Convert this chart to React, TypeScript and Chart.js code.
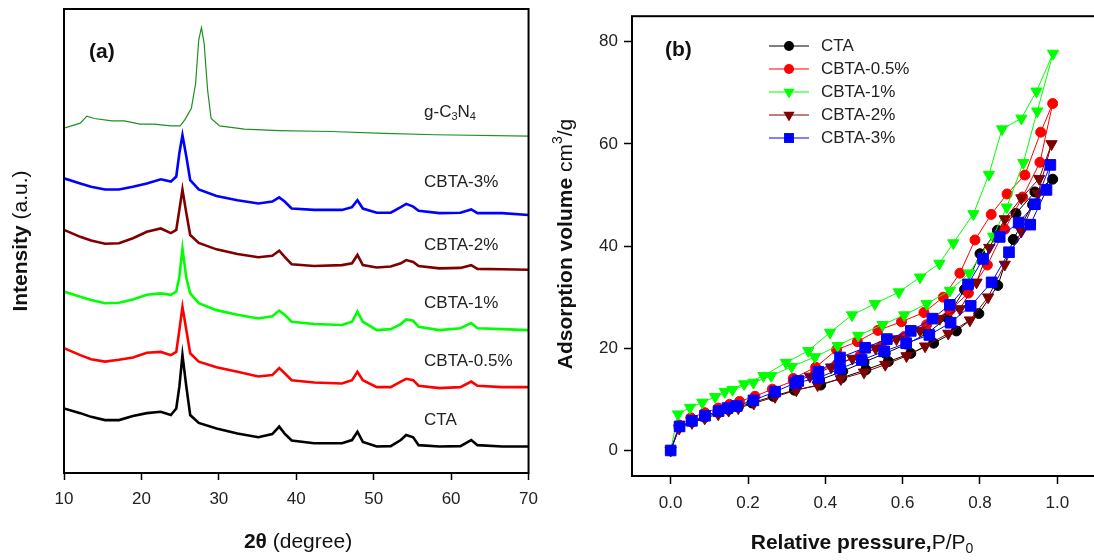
import React, { useEffect, useRef } from 'react';
import { Chart, registerables } from 'chart.js';

Chart.register(...registerables);

const FAM = '"Liberation Sans", Arial, sans-serif';

// ---------- Panel (a): XRD patterns (arbitrary, stacked intensity units) ----------
const xrdTicks = [10, 20, 30, 40, 50, 60, 70];
const gcnAngles = [10, 12.1, 12.95, 13.9, 16.2, 17.8, 19.8, 21.6, 23.8, 25.0, 25.6, 26.45, 27.0, 27.4, 27.75, 28.1, 28.55, 29.0, 30.1, 33.3, 37.8, 44.5, 51.3, 58.0, 70];
const gcnIntensity = [74.3, 75.4, 76.9, 76.4, 75.9, 75.9, 75.2, 75.2, 74.8, 74.8, 76.1, 78.6, 84.0, 93.3, 96.0, 92.6, 82.5, 76.4, 74.8, 74.1, 73.8, 73.6, 73.2, 72.9, 72.6];
const cbtaAngles = [10, 12.1, 13.5, 15.3, 17.1, 18.9, 20.7, 22.5, 23.8, 24.5, 24.9, 25.3, 25.8, 26.3, 27.4, 29.7, 32.4, 35.1, 36.9, 37.8, 38.5, 39.4, 42.3, 45.9, 47.2, 47.9, 48.6, 50.4, 52.2, 53.5, 54.2, 55.1, 55.8, 58.5, 61.2, 62.6, 63.4, 66.6, 70];
const xrdCTA = [13.9, 12.9, 12.1, 11.4, 11.4, 12.3, 12.9, 13.2, 12.5, 13.9, 18.6, 25.4, 18.6, 12.5, 10.8, 9.6, 8.5, 7.7, 8.4, 10.0, 8.5, 7.0, 6.4, 6.4, 7.1, 8.9, 6.7, 5.7, 5.8, 7.1, 8.2, 7.7, 6.0, 5.7, 5.8, 7.1, 6.0, 5.7, 5.7];
const xrdCBTA05 = [26.9, 25.4, 24.5, 24.0, 24.4, 24.9, 25.9, 26.1, 25.4, 26.1, 30.8, 35.8, 30.8, 25.8, 24.0, 22.8, 21.8, 20.8, 21.1, 22.6, 21.5, 20.0, 19.5, 19.3, 20.0, 21.8, 20.0, 18.5, 18.5, 19.7, 20.3, 20.0, 18.8, 18.3, 18.5, 19.7, 18.8, 18.5, 18.5];
const xrdCBTA1 = [39.1, 38.0, 37.3, 36.6, 36.7, 37.4, 38.4, 38.7, 38.4, 39.1, 42.3, 48.4, 42.0, 38.7, 36.6, 35.1, 34.1, 33.3, 33.8, 35.0, 34.1, 32.6, 32.1, 31.9, 32.6, 34.8, 32.6, 30.8, 31.0, 32.1, 33.1, 32.8, 31.5, 30.8, 31.2, 32.3, 31.2, 31.0, 30.8];
const xrdCBTA2 = [52.4, 50.9, 50.1, 49.4, 49.5, 50.6, 52.0, 52.7, 51.7, 52.4, 56.7, 61.1, 56.0, 51.3, 49.6, 48.2, 47.2, 46.5, 46.8, 47.9, 46.6, 45.0, 44.6, 44.8, 45.2, 47.0, 44.8, 44.3, 44.5, 45.2, 45.9, 45.5, 44.6, 44.1, 44.2, 44.8, 44.0, 43.9, 43.8];
const xrdCBTA3 = [63.5, 62.4, 61.7, 61.1, 61.1, 61.7, 62.4, 63.3, 62.8, 63.9, 68.9, 72.8, 68.2, 63.1, 61.1, 59.7, 58.8, 58.1, 58.5, 59.4, 58.5, 57.0, 56.7, 56.7, 57.3, 58.8, 57.0, 56.1, 56.1, 57.3, 58.0, 57.4, 56.5, 56.0, 56.1, 56.8, 56.0, 56.0, 55.6];

// ---------- Panel (b): N2 isotherms (adsorption then desorption branch) ----------
const pTicks = [0, 0.2, 0.4, 0.6, 0.8, 1.0];
const vTicks = [0, 20, 40, 60, 80];
const ctaP = [0, 0.022, 0.055, 0.088, 0.123, 0.15, 0.175, 0.21, 0.265, 0.32, 0.388, 0.442, 0.505, 0.563, 0.621, 0.68, 0.739, 0.797, 0.846, 0.886, 0.936, 0.988, 0.942, 0.893, 0.845, 0.80, 0.76, 0.715, 0.665, 0.61, 0.555, 0.5, 0.445, 0.385];
const ctaV = [0, 4.6, 5.6, 6.5, 7.4, 8.0, 8.5, 9.3, 10.6, 11.8, 12.8, 14.2, 15.8, 17.4, 19.0, 21.0, 23.4, 26.8, 32.3, 41.3, 48.1, 53.1, 50.6, 46.4, 43.1, 38.5, 31.5, 26.0, 23.0, 20.8, 19.0, 17.3, 15.5, 13.8];
const cbta05P = [0, 0.022, 0.052, 0.088, 0.123, 0.152, 0.178, 0.218, 0.263, 0.317, 0.375, 0.432, 0.49, 0.545, 0.604, 0.662, 0.722, 0.77, 0.819, 0.864, 0.91, 0.955, 0.988, 0.957, 0.916, 0.87, 0.829, 0.787, 0.748, 0.705, 0.655, 0.597, 0.536, 0.483, 0.429, 0.375, 0.317];
const cbta05V = [0, 5.0, 6.4, 7.4, 8.3, 9.0, 9.6, 10.6, 12.0, 13.6, 15.4, 17.0, 18.6, 20.4, 22.3, 24.6, 27.4, 30.8, 36.3, 43.3, 49.6, 56.4, 67.9, 62.3, 53.9, 50.2, 46.2, 41.2, 34.7, 30.0, 27.0, 25.2, 23.5, 21.3, 19.7, 16.3, 14.1];
const cbta1P = [0, 0.019, 0.05, 0.082, 0.115, 0.16, 0.214, 0.26, 0.313, 0.373, 0.432, 0.485, 0.548, 0.604, 0.662, 0.722, 0.772, 0.834, 0.869, 0.912, 0.948, 0.989, 0.946, 0.907, 0.857, 0.823, 0.783, 0.731, 0.695, 0.645, 0.59, 0.528, 0.469, 0.412, 0.356, 0.298, 0.24, 0.19, 0.14];
const cbta1V = [0, 7.1, 8.4, 9.4, 10.5, 11.9, 13.3, 14.6, 16.4, 18.3, 20.5, 22.5, 24.6, 26.5, 28.7, 31.3, 34.7, 41.9, 47.6, 56.3, 66.4, 77.7, 70.3, 65.0, 62.9, 54.0, 46.3, 40.6, 36.6, 33.9, 31.0, 28.7, 26.5, 23.1, 19.5, 17.2, 14.6, 13.0, 11.5];
const cbta2P = [0, 0.022, 0.055, 0.088, 0.123, 0.15, 0.175, 0.215, 0.27, 0.325, 0.38, 0.44, 0.5, 0.555, 0.61, 0.658, 0.718, 0.774, 0.821, 0.864, 0.907, 0.95, 0.985, 0.953, 0.907, 0.864, 0.824, 0.791, 0.748, 0.696, 0.645, 0.584, 0.53, 0.47, 0.415, 0.36];
const cbta2V = [0, 4.3, 5.4, 6.3, 7.1, 7.8, 8.3, 9.2, 10.5, 11.8, 12.8, 14.0, 15.3, 16.8, 18.5, 20.4, 22.9, 25.5, 30.0, 36.4, 42.9, 50.3, 60.0, 53.2, 49.4, 45.3, 39.7, 32.9, 27.7, 25.8, 23.5, 21.8, 20.0, 18.0, 16.3, 14.5];
const cbta3P = [0, 0.023, 0.055, 0.089, 0.124, 0.147, 0.171, 0.214, 0.27, 0.322, 0.382, 0.438, 0.494, 0.552, 0.609, 0.669, 0.724, 0.776, 0.83, 0.875, 0.93, 0.972, 0.982, 0.942, 0.9, 0.851, 0.808, 0.769, 0.722, 0.677, 0.621, 0.559, 0.503, 0.438, 0.382, 0.33];
const cbta3V = [0, 4.7, 5.8, 6.8, 7.7, 8.3, 8.7, 9.8, 11.5, 13.2, 14.2, 16.0, 17.7, 19.4, 21.0, 22.6, 25.0, 28.3, 32.9, 38.8, 44.2, 51.0, 55.9, 48.2, 44.6, 41.8, 37.5, 32.5, 28.5, 25.8, 23.4, 21.8, 20.1, 18.2, 15.4, 13.6];

const seriesNames = ['CTA', 'CBTA-0.5%', 'CBTA-1%', 'CBTA-2%', 'CBTA-3%'];

type Run = { t: string; f: string; dy?: number };

const fnt = (size: number, bold = false) => `${bold ? 'bold ' : ''}${size}px ${FAM}`;

function drawRuns(ctx: CanvasRenderingContext2D, runs: Run[], x: number, y: number, align: 'left' | 'center', rot: number, color: string) {
  ctx.save();
  ctx.translate(x, y);
  if (rot) ctx.rotate(rot);
  ctx.fillStyle = color;
  ctx.textBaseline = 'middle';
  ctx.textAlign = 'left';
  let total = 0;
  const widths = runs.map((r) => {
    ctx.font = r.f;
    const w = ctx.measureText(r.t).width;
    total += w;
    return w;
  });
  let cx = align === 'center' ? -total / 2 : 0;
  runs.forEach((r, i) => {
    ctx.font = r.f;
    ctx.fillText(r.t, cx, r.dy || 0);
    cx += widths[i];
  });
  ctx.restore();
}

function drawMarker(ctx: CanvasRenderingContext2D, style: string, x: number, y: number, r: number, color: string) {
  ctx.save();
  ctx.fillStyle = color;
  ctx.beginPath();
  if (style === 'circle') {
    ctx.arc(x, y, r, 0, Math.PI * 2);
  } else if (style === 'triangleDown') {
    ctx.moveTo(x, y + r);
    ctx.lineTo(x - r * 0.866, y - r / 2);
    ctx.lineTo(x + r * 0.866, y - r / 2);
    ctx.closePath();
  } else {
    const s = r * Math.SQRT1_2;
    ctx.rect(x - s, y - s, 2 * s, 2 * s);
  }
  ctx.fill();
  ctx.restore();
}

const frame = (chart: any) => {
  const { ctx, chartArea: a } = chart;
  ctx.save();
  ctx.strokeStyle = '#000';
  ctx.lineWidth = 2;
  ctx.strokeRect(a.left, a.top, a.right - a.left, a.bottom - a.top);
  ctx.restore();
};

const tickFont = { family: FAM, size: 17 };
const TICK_COLOR = '#222';

export default function App() {
  const leftRef = useRef<HTMLCanvasElement>(null);
  const rightRef = useRef<HTMLCanvasElement>(null);

  useEffect(() => {
    const xy = (xs: number[], ys: number[]) => xs.map((x, i) => ({ x, y: ys[i] }));

    const xrdColors = ['#000000', '#ff0000', '#00ff00', '#800000', '#0000ff'];
    const xrdSeries = [xrdCTA, xrdCBTA05, xrdCBTA1, xrdCBTA2, xrdCBTA3];
    const xrdLabelPos = [11.4, 24.0, 36.6, 49.1, 62.7];

    const leftDecor = {
      id: 'leftDecor',
      afterDraw(chart: any) {
        frame(chart);
        const ctx = chart.ctx;
        const sx = chart.scales.x;
        const sy = chart.scales.y;
        const lx = sx.getPixelForValue(56.5);
        drawRuns(ctx, [
          { t: 'g-C', f: fnt(17) },
          { t: '3', f: fnt(11), dy: 5 },
          { t: 'N', f: fnt(17) },
          { t: '4', f: fnt(11), dy: 5 },
        ], lx, sy.getPixelForValue(77.8), 'left', 0, TICK_COLOR);
        seriesNames.forEach((n, i) => {
          drawRuns(ctx, [{ t: n, f: fnt(17) }], lx, sy.getPixelForValue(xrdLabelPos[i]), 'left', 0, TICK_COLOR);
        });
        drawRuns(ctx, [{ t: '(a)', f: fnt(21, true) }], 89, 52, 'left', 0, '#111');
        drawRuns(ctx, [{ t: '2θ', f: fnt(21, true) }, { t: ' (degree)', f: fnt(21) }], 298, 542, 'center', 0, '#111');
        drawRuns(ctx, [{ t: 'Intensity', f: fnt(21, true) }, { t: ' (a.u.)', f: fnt(21) }], 21, 241, 'center', -Math.PI / 2, '#111');
      },
    };

    const left = new Chart(leftRef.current as HTMLCanvasElement, {
      type: 'line',
      data: {
        datasets: [
          {
            label: 'g-C3N4',
            data: xy(gcnAngles, gcnIntensity),
            borderColor: '#1f8f1f',
            borderWidth: 1.2,
            pointRadius: 0,
          },
          ...xrdSeries.map((s, i) => ({
            label: seriesNames[i],
            data: xy(cbtaAngles, s),
            borderColor: xrdColors[i],
            borderWidth: 2.6,
            pointRadius: 0,
          })),
        ],
      },
      options: {
        responsive: false,
        animation: false,
        layout: { padding: { left: 64, right: 15, top: 9, bottom: 0 } },
        plugins: { legend: { display: false }, tooltip: { enabled: false } },
        elements: { line: { tension: 0 } },
        scales: {
          x: {
            type: 'linear',
            min: 10,
            max: 70,
            afterFit: (s: any) => { s.height = 87; },
            afterBuildTicks: (s: any) => { s.ticks = xrdTicks.map((v) => ({ value: v })); },
            ticks: { font: tickFont, color: TICK_COLOR, padding: 9, maxRotation: 0, autoSkip: false },
            grid: { display: true, drawOnChartArea: false, drawTicks: true, tickLength: 7, tickColor: '#000', tickWidth: 1.5 },
            border: { display: false },
          },
          y: { type: 'linear', min: 0, max: 100, display: false },
        },
      } as any,
      plugins: [leftDecor],
    });

    const isoColors = ['#000000', '#ff0000', '#00ff00', '#800000', '#0000ff'];
    const isoStyles = ['circle', 'circle', 'triangleDown', 'triangleDown', 'rect'];
    const isoP = [ctaP, cbta05P, cbta1P, cbta2P, cbta3P];
    const isoV = [ctaV, cbta05V, cbta1V, cbta2V, cbta3V];
    const isoRadius = [5, 5, 6.5, 6.5, 7.5];

    const rightDecor = {
      id: 'rightDecor',
      afterDraw(chart: any) {
        frame(chart);
        const ctx = chart.ctx;
        const rows = [46, 69, 92, 115, 138];
        seriesNames.forEach((n, i) => {
          const y = rows[i];
          ctx.save();
          ctx.strokeStyle = isoColors[i];
          ctx.lineWidth = 1.2;
          ctx.beginPath();
          ctx.moveTo(222, y);
          ctx.lineTo(262, y);
          ctx.stroke();
          ctx.restore();
          const legR = [5, 5, 6.5, 6.5, 7];
          drawMarker(ctx, isoStyles[i], 242, y, legR[i], isoColors[i]);
          drawRuns(ctx, [{ t: n, f: fnt(17) }], 274, y, 'left', 0, TICK_COLOR);
        });
        drawRuns(ctx, [{ t: '(b)', f: fnt(21, true) }], 118, 50, 'left', 0, '#111');
        drawRuns(ctx, [
          { t: 'Relative pressure,', f: fnt(21, true) },
          { t: 'P/P', f: fnt(21) },
          { t: '0', f: fnt(14), dy: 6 },
        ], 315, 543, 'center', 0, '#111');
        drawRuns(ctx, [
          { t: 'Adsorption volume', f: fnt(21, true) },
          { t: ' cm', f: fnt(21) },
          { t: '3', f: fnt(14), dy: -8 },
          { t: '/g', f: fnt(21) },
        ], 19, 244, 'center', -Math.PI / 2, '#111');
      },
    };

    const right = new Chart(rightRef.current as HTMLCanvasElement, {
      type: 'line',
      data: {
        datasets: seriesNames.map((n, i) => ({
          label: n,
          data: xy(isoP[i], isoV[i]),
          borderColor: isoColors[i],
          borderWidth: 1,
          pointStyle: isoStyles[i] === 'triangleDown' ? 'triangle' : isoStyles[i],
          rotation: isoStyles[i] === 'triangleDown' ? 180 : 0,
          pointRadius: isoRadius[i],
          pointBackgroundColor: isoColors[i],
          pointBorderColor: isoColors[i],
          pointBorderWidth: 1,
          order: 4 - i,
        })),
      },
      options: {
        responsive: false,
        animation: false,
        layout: { padding: { left: 0, right: 31, top: 11, bottom: 0 } },
        plugins: { legend: { display: false }, tooltip: { enabled: false } },
        elements: { line: { tension: 0 } },
        scales: {
          x: {
            type: 'linear',
            min: -0.1,
            max: 1.1,
            afterFit: (s: any) => { s.height = 84; },
            afterBuildTicks: (s: any) => { s.ticks = pTicks.map((v) => ({ value: v })); },
            ticks: { font: tickFont, color: TICK_COLOR, padding: 9, maxRotation: 0, autoSkip: false, callback: (v: any) => Number(v).toFixed(1) },
            grid: { display: true, drawOnChartArea: false, drawTicks: true, tickLength: 8, tickColor: '#000', tickWidth: 1.5 },
            border: { display: false },
          },
          y: {
            type: 'linear',
            min: -5,
            max: 85,
            afterFit: (s: any) => { s.width = 85; },
            afterBuildTicks: (s: any) => { s.ticks = vTicks.map((v) => ({ value: v })); },
            ticks: { font: tickFont, color: TICK_COLOR, padding: 6, autoSkip: false },
            grid: { display: true, drawOnChartArea: false, drawTicks: true, tickLength: 8, tickColor: '#000', tickWidth: 1.5 },
            border: { display: false },
          },
        },
      } as any,
      plugins: [rightDecor],
    });

    return () => {
      left.destroy();
      right.destroy();
    };
  }, []);

  return (
    <div style={{ position: 'fixed', left: 0, top: 0, width: 1094, height: 560, overflow: 'hidden', background: '#fff' }}>
      <canvas ref={leftRef} width={547} height={560} style={{ position: 'absolute', left: 0, top: 0 }} />
      <canvas ref={rightRef} width={580} height={560} style={{ position: 'absolute', left: 547, top: 0 }} />
    </div>
  );
}
